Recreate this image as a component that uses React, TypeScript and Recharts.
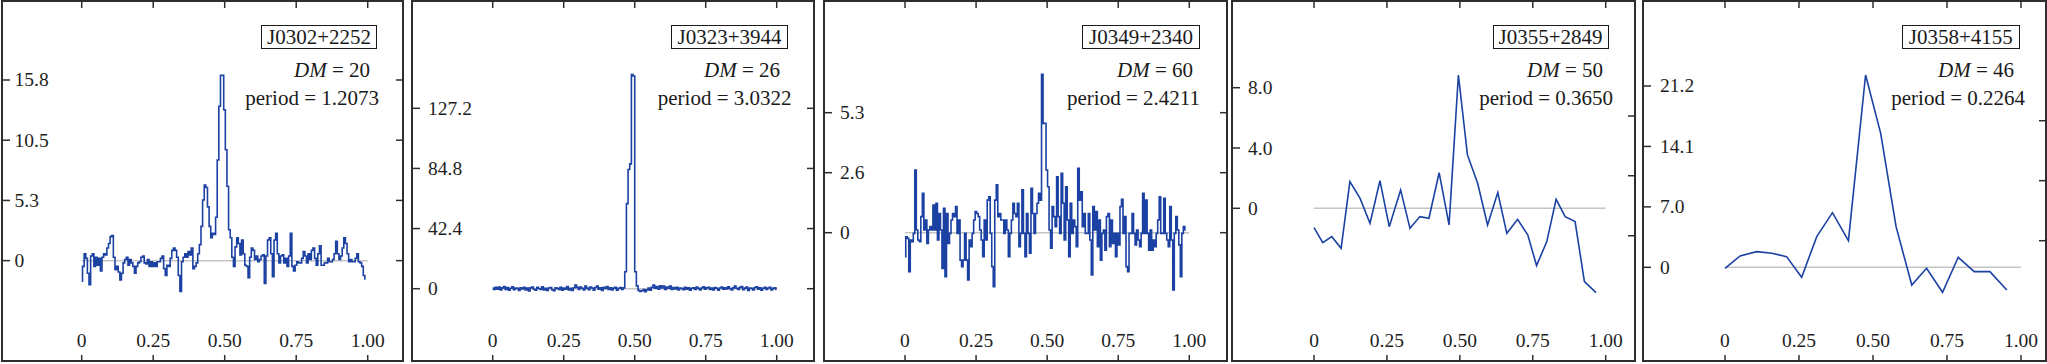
import { LineChart, Line, XAxis, YAxis, ReferenceLine } from "recharts";

document.body.style.margin = "0";

const FONT = '"Liberation Serif", "Times New Roman", serif';
const INK = "#2e2e2e";
const BLUE = "#1b42a3";
const ZERO = "#c4c4c4";
const H = 360;

const X_TICKS = [0, 0.25, 0.5, 0.75, 1];
const X_LABELS = ["0", "0.25", "0.50", "0.75", "1.00"];

// ---- J0302+2252 ----
const P1_NAME = "J0302+2252";
const P1_DM = "20";
const P1_PERIOD = "1.2073";
const P1_END = 0.993;
const P1_VALUES = [
  -1.8, -0.5, 0.6, 0.2, -1.1, -2.1, 0.4, 0.6, -0.5, 0.3,
  -0.4, 0.2, -0.9, 0.3, 0.6, 0.5, 1.1, 1.5, 2.1, 2.2,
  0.3, -0.8, -0.5, -1.0, -1.7, -1.1, -0.2, 0.1, 0.3, -0.4,
  0.1, -0.2, -0.5, -1.1, -0.5, -0.2, -0.1, 0.3, 0.4, -0.2,
  -0.3, 0.1,
  -0.5, -0.1, -0.5, -0.2, -0.5, -0.1, -0.1, 0.2, 0.4, -0.7,
  -1.3, -0.4, -0.5, 0.2, 0.9, 1.1, 0.9, 0.3, -1.3, -2.7,
  -0.1, 0.3, 0.6, 0.3, 0.8, 0.5, 1.1, -0.7, -0.5, -0.2,
  0.6, 1.4, 3.0, 5.3, 6.6, 6.4, 4.7, 3.0, 2.0, 2.4,
  2.3, 3.8, 8.8, 13.5, 16.2, 16.2, 13.2, 9.7, 6.5, 2.7,
  2.0, 0.3, -0.5, 1.2, 2.0, 1.5, 0.5, 1.8, 0.6, -0.4,
  -0.5, -1.5, 0.3, 1.1, 0.9, 0.1, 0.4, -0.1, 0.1, 0.4,
  0.5, -2.0, 0.4, 1.8, 2.0, 0.6, -1.4, 1.8, 2.4, 0.6,
  -0.2, 0.4, 0.5, -0.2, 0.2, -0.5, 0.4, 2.4, -0.5, -0.9,
  -0.4, -0.1, -0.2, -0.2, 0.2, 0.8, 0.4, -0.2, 0.6, 0.1,
  0.9, 1.1, 0.2, -0.4, 0.6, 1.3, -0.4, -0.4, -0.2, -0.2,
  0.2, -0.1, -0.1, 0.1, 0.6, 1.7, 0.6, 0.1, 0.4, 1.1,
  2.0, 1.5, 0.6, -0.1, 0.1, -0.1, -0.1, 0.2, 0.6, -0.1,
  -0.2, -0.5, -1.3, -1.6,
];
const P1_YTICKS = [0, 5.2667, 10.5333, 15.8];
const P1_YLABELS = ["0", "5.3", "10.5", "15.8"];

// ---- J0323+3944 ----
const P2_NAME = "J0323+3944";
const P2_DM = "26";
const P2_PERIOD = "3.0322";
const P2_END = 1.0;
const P2_VALUES = [
  0.4, -0.6, 0.9, -0.3, 1.2, -0.9, 0.6, 1.6, -0.5, 0.8,
  -1.1, 0.3, 1.3, -0.7, 0.5, 0.2, -1.3, 0.7, -0.2, 1.0,
  -0.8, 0.4, -1.5, 0.6, 1.1, -0.4, -1.0, 0.9, 0.1, -0.6,
  1.4, -0.9, 0.3, -1.2, 0.5, 0.8, -0.7, -1.4, 0.6, 0.2,
  -0.5, 1.0, -1.1, 0.4, -0.3, 1.6, -0.8, 0.2, -1.3, 0.7,
  2.6, 0.9, -0.6, 1.2, 0.3, -0.9, 1.8, 0.4, -0.7, 1.1,
  0.5, -1.0, 0.8, 1.9, -0.4, 0.6, -1.2, 0.9, 0.2, 1.5,
  -0.6, 0.7, -0.9, 0.4, 1.0, -1.1, 0.3, 0.8, -0.5, 0.6,
  12, 60, 84, 88, 151, 150, 12, 2.0,
  -1.2, -2.0, -1.4, -0.6, -2.2, -0.8, 0.5, -1.0, 0.9, 2.6,
  0.4, 1.5, -0.3, 2.0, 0.6, 1.8, -0.5, 1.2, 0.3, 1.9,
  -0.6, 0.8, -0.2, 1.0, -0.9, 0.5, 0.2, -0.7, 0.9, -0.4,
  0.6, -1.1, 0.3, 0.7, -0.5, 1.1, 0.2, -0.8, 0.5, 1.3,
  -0.3, 0.6, 1.0, -0.6, 0.4, -0.9, 0.8, 0.3, -1.0, 0.5,
  1.2, -0.4, 0.7, -0.2, 1.4, 0.1, -0.8, 0.6, 1.9, 0.3,
  -0.5, 0.9, 1.6, -0.7, 0.4, 1.1, -1.2, 0.5, 0.2, -0.9,
  0.8, 1.3, -0.4, 0.6, -1.0, 0.3, 0.9, -0.6, 0.5, 1.0,
  -0.8, 0.2, 0.7, -0.3,
];
const P2_YTICKS = [0, 42.4, 84.8, 127.2];
const P2_YLABELS = ["0", "42.4", "84.8", "127.2"];

// ---- J0349+2340 ----
const P3_NAME = "J0349+2340";
const P3_DM = "60";
const P3_PERIOD = "2.4211";
const P3_END = 0.987;
const P3_VALUES = [
  -1.06, -0.18, -0.25, -1.72, -0.32, -0.4, -0.03, 2.77, 0.12, -0.32,
  -0.4, 0.71, 1.74, 0.12, 0.56, -0.47, 0.12, 0.27, 0.12, 1.22,
  0.12, 1.3, -0.32, 0.85, 0.12, -1.58, 1.08, -1.94, 0.85, -0.47,
  -0.03, 0.56, 0.85, 0.71, 1.15, -0.03, 0.56, -1.21, -1.5, -1.21,
  -0.03, -1.21, -2.09, -0.32, -0.62, -0.03, 0.56, 0.93, 0.85, 0.71,
  0.12, -0.32, -1.06, 0.56, -0.32, 1.44, 1.59, -0.03, -1.5, -2.39,
  1.44, 2.11, 0.71, 0.85, 0.56, 0.56, -0.03, 0.56, 0.12, -1.06,
  -0.03, 0.56, 1.3, 0.85, 0.71, 1.3, -0.62, -0.03, 1.89, -0.03,
  -1.06, 0.85, -0.03, -0.91, 1.96, 0.85, -0.03, 0.85, 1.3, 1.74,
  1.44, 7.0, 4.83, 4.83, 2.77, 2.03, 0.12, -0.69, 1.15, 0.71,
  0.27, 2.47, 0.71, -0.03, 2.62, 1.3, -0.32, 2.03, 0.56, -1.06,
  1.3, -0.03, 0.56, 0.27, -0.62, 2.84, 1.44, 1.81, 0.27, 0.85,
  -0.03, -0.03, 0.85, -0.32, -1.87, 1.15, 0.12, 0.93, -0.62, 0.56,
  -1.21, -0.03, 0.12, -0.77, 0.71, 0.85, -0.62, 0.56, -0.47, -0.03,
  -1.06, -0.03, -0.54, 1.15, 1.47, -0.03, 0.71, -1.5, -1.72, -0.03,
  -0.03, 0.85, -0.03, -0.54, 0.12, -0.32, -0.62, -0.03, 1.74, -0.03,
  1.44, -0.03, -0.77, 0.12, -0.77, -0.32, -0.62, -0.03, 0.56, 1.59,
  -0.03, -0.03, 1.52, -0.03, -0.32, -0.62, 1.15, -0.32, -2.53, -0.03,
  0.71, 0.12, -0.54, -1.94, -0.03, 0.27, 0.12,
];
const P3_YTICKS = [0, 2.65, 5.3];
const P3_YLABELS = ["0", "2.6", "5.3"];

// ---- J0355+2849 ----
const P4_NAME = "J0355+2849";
const P4_DM = "50";
const P4_PERIOD = "0.3650";
const P4_PHASE = [
  0.0, 0.03, 0.061, 0.093, 0.123, 0.158, 0.192, 0.226, 0.258, 0.297,
  0.329, 0.363, 0.394, 0.429, 0.463, 0.495, 0.526, 0.561, 0.595, 0.63,
  0.661, 0.698, 0.733, 0.763, 0.798, 0.83, 0.861, 0.895, 0.927, 0.967,
];
const P4_VALUES = [
  -1.28, -2.28, -1.88, -2.65, 1.77, 0.66, -1.0, 1.83, -1.22, 1.22,
  -1.33, -0.55, -0.66, 2.36, -1.1, 8.84, 3.54, 1.66, -1.1, 1.04,
  -1.66, -0.73, -1.77, -3.8, -2.21, 0.6, -0.55, -0.88, -4.86, -5.59,
];
const P4_YTICKS = [0, 4, 8];
const P4_YLABELS = ["0", "4.0", "8.0"];
const P4_RTICKS = [-1.82, 2.16, 6.12];

// ---- J0358+4155 ----
const P5_NAME = "J0358+4155";
const P5_DM = "46";
const P5_PERIOD = "0.2264";
const P5_PHASE = [
  0.0, 0.051, 0.107, 0.158, 0.208, 0.259, 0.31, 0.363, 0.417, 0.475,
  0.526, 0.578, 0.631, 0.681, 0.735, 0.788, 0.842, 0.895, 0.952,
];
const P5_VALUES = [
  -0.12, 1.33, 1.83, 1.64, 1.25, -1.17, 3.59, 6.39, 3.12, 22.49,
  15.67, 4.75, -2.07, -0.12, -2.92, 1.17, -0.51, -0.51, -2.65,
];
const P5_YTICKS = [0, 7.0667, 14.1333, 21.2];
const P5_YLABELS = ["0", "7.0", "14.1", "21.2"];
const P5_RTICKS = [3.11, 10.13, 17.14];

type Pt = { x: number; v: number };

function binned(values: number[], end: number): Pt[] {
  return values.map((v, i) => ({ x: (i / (values.length - 1)) * end, v }));
}
function paired(phase: number[], values: number[]): Pt[] {
  return phase.map((x, i) => ({ x, v: values[i] }));
}

interface PanelCfg {
  name: string;
  dm: string;
  period: string;
  data: Pt[];
  curve: "step" | "linear";
  yTicks: number[];
  yLabels: string[];
  rTicks: number[];
  left: number;
  width: number;
  xDomain: [number, number];
  yDomain: [number, number];
  labelIndent: number;
  box: [number, number];
  dmRight: number;
  periodRight: number;
}

const PANELS: PanelCfg[] = [
  {
    name: P1_NAME, dm: P1_DM, period: P1_PERIOD, data: binned(P1_VALUES, P1_END), curve: "step",
    yTicks: P1_YTICKS, yLabels: P1_YLABELS, rTicks: P1_YTICKS,
    left: 2, width: 401, xDomain: [-0.2787, 1.1234], yDomain: [-8.78, 22.71],
    labelIndent: 12.5, box: [259, 375], dmRight: 368, periodRight: 377,
  },
  {
    name: P2_NAME, dm: P2_DM, period: P2_PERIOD, data: binned(P2_VALUES, P2_END), curve: "step",
    yTicks: P2_YTICKS, yLabels: P2_YLABELS, rTicks: P2_YTICKS,
    left: 412, width: 402, xDomain: [-0.2842, 1.1313], yDomain: [-50.98, 202.86],
    labelIndent: 16, box: [259, 376], dmRight: 368, periodRight: 379.5,
  },
  {
    name: P3_NAME, dm: P3_DM, period: P3_PERIOD, data: binned(P3_VALUES, P3_END), curve: "step",
    yTicks: P3_YTICKS, yLabels: P3_YLABELS, rTicks: P3_YTICKS,
    left: 824, width: 403, xDomain: [-0.2849, 1.1326], yDomain: [-5.667, 10.233],
    labelIndent: 16, box: [258, 376], dmRight: 369, periodRight: 376,
  },
  {
    name: P4_NAME, dm: P4_DM, period: P4_PERIOD, data: paired(P4_PHASE, P4_VALUES), curve: "linear",
    yTicks: P4_YTICKS, yLabels: P4_YLABELS, rTicks: P4_RTICKS,
    left: 1232, width: 403, xDomain: [-0.2811, 1.1004], yDomain: [-10.129, 13.751],
    labelIndent: 16, box: [260.5, 376.5], dmRight: 371, periodRight: 381,
  },
  {
    name: P5_NAME, dm: P5_DM, period: P5_PERIOD, data: paired(P5_PHASE, P5_VALUES), curve: "linear",
    yTicks: P5_YTICKS, yLabels: P5_YLABELS, rTicks: P5_RTICKS,
    left: 1643, width: 403, xDomain: [-0.277, 1.0845], yDomain: [-10.956, 31.139],
    labelIndent: 17, box: [258.5, 377], dmRight: 371, periodRight: 382,
  },
];

const tickText = { fontFamily: FONT, fontSize: 19.5, fill: "#1e1e1e" };

// axes get 1px of room (a zero-size axis is not drawn); the -1 margins give it back
const AX = 1;

function Panel({ cfg }: { cfg: PanelCfg }) {
  const { width } = cfg;
  return (
    <div style={{ position: "absolute", left: cfg.left, top: 1, width, height: H }}>
      <div
        style={{
          position: "absolute", left: -1, top: -1, width: width + 2, height: H + 2,
          border: `2px solid ${INK}`, boxSizing: "border-box",
        }}
      />
      <div style={{ position: "absolute", left: 0, top: 0 }}>
        <LineChart
          width={width} height={H} data={cfg.data}
          margin={{ top: -AX, right: -AX, bottom: -AX, left: -AX }}
          style={{ overflow: "visible" }}
        >
          <XAxis
            xAxisId="b" dataKey="x" type="number" orientation="bottom"
            domain={cfg.xDomain} allowDataOverflow ticks={X_TICKS} interval={0}
            height={AX} tickSize={0} tickMargin={0} axisLine={false} tickLine={false}
            tick={(p: any) => (
              <g>
                <line x1={p.x} x2={p.x} y1={H} y2={H - 6} stroke={INK} strokeWidth={1.5} />
                <text x={p.x} y={H - 21} textAnchor="middle" dominantBaseline="central" {...tickText}>
                  {X_LABELS[X_TICKS.indexOf(p.payload.value)]}
                </text>
              </g>
            )}
          />
          <XAxis
            xAxisId="t" dataKey="x" type="number" orientation="top"
            domain={cfg.xDomain} allowDataOverflow ticks={X_TICKS} interval={0}
            height={AX} tickSize={0} tickMargin={0} axisLine={false} tickLine={false}
            tick={(p: any) => (
              <line x1={p.x} x2={p.x} y1={0} y2={7} stroke={INK} strokeWidth={1.5} />
            )}
          />
          <YAxis
            yAxisId="l" type="number" orientation="left"
            domain={cfg.yDomain} allowDataOverflow ticks={cfg.yTicks} interval={0}
            width={AX} tickSize={0} tickMargin={0} axisLine={false} tickLine={false}
            tick={(p: any) => (
              <g>
                <line x1={0} x2={8} y1={p.y} y2={p.y} stroke={INK} strokeWidth={1.5} />
                <text x={cfg.labelIndent} y={p.y} textAnchor="start" dominantBaseline="central" {...tickText}>
                  {cfg.yLabels[cfg.yTicks.indexOf(p.payload.value)]}
                </text>
              </g>
            )}
          />
          <YAxis
            yAxisId="r" type="number" orientation="right"
            domain={cfg.yDomain} allowDataOverflow ticks={cfg.rTicks} interval={0}
            width={AX} tickSize={0} tickMargin={0} axisLine={false} tickLine={false}
            tick={(p: any) => (
              <line x1={width} x2={width - 7} y1={p.y} y2={p.y} stroke={INK} strokeWidth={1.5} />
            )}
          />
          <ReferenceLine
            xAxisId="b" yAxisId="l"
            segment={[{ x: 0, y: 0 }, { x: 1, y: 0 }]}
            stroke={ZERO} strokeWidth={1.5}
          />
          <Line
            xAxisId="b" yAxisId="l" dataKey="v" type={cfg.curve}
            stroke={BLUE} strokeWidth={1.6} dot={false} activeDot={false}
            isAnimationActive={false}
          />
        </LineChart>
      </div>

      {/* annotations */}
      <div
        style={{
          position: "absolute", left: cfg.box[0], top: 24, width: cfg.box[1] - cfg.box[0], height: 24,
          border: "1px solid #1a1a1a", boxSizing: "border-box",
          fontFamily: FONT, fontSize: 21, lineHeight: "22px", textAlign: "center", color: "#1a1a1a",
          whiteSpace: "nowrap",
        }}
      >
        {cfg.name}
      </div>
      <div
        style={{
          position: "absolute", right: width - cfg.dmRight, top: 56.5, height: 24,
          fontFamily: FONT, fontSize: 21, lineHeight: "24px", color: "#1a1a1a", whiteSpace: "nowrap",
        }}
      >
        <i>DM</i> = {cfg.dm}
      </div>
      <div
        style={{
          position: "absolute", right: width - cfg.periodRight, top: 84.5, height: 24,
          fontFamily: FONT, fontSize: 21, lineHeight: "24px", color: "#1a1a1a", whiteSpace: "nowrap",
        }}
      >
        period = {cfg.period}
      </div>
    </div>
  );
}

export default function App() {
  return (
    <div style={{ position: "relative", width: 2047, height: 364, background: "#fff", overflow: "hidden" }}>
      {PANELS.map((cfg) => (
        <Panel key={cfg.name} cfg={cfg} />
      ))}
    </div>
  );
}
